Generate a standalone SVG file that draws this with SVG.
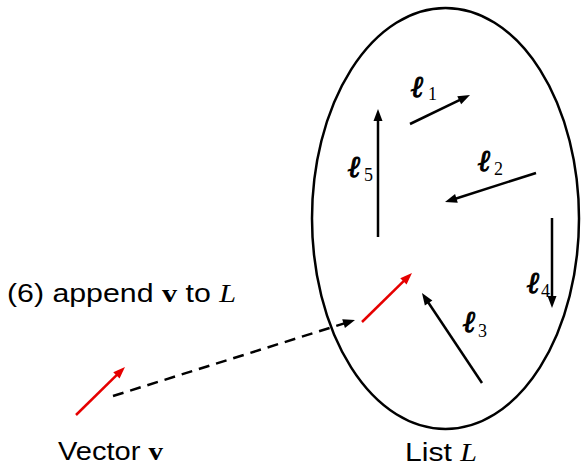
<svg xmlns="http://www.w3.org/2000/svg" width="581" height="467" viewBox="0 0 581 467">
<style>
.sans{font-family:"Liberation Sans",Arial,sans-serif;font-size:26px;fill:#000}
.bv{font-family:"Liberation Serif","Times New Roman",serif;font-weight:bold}
.itL{font-family:"Liberation Serif","Times New Roman",serif;font-style:italic}
.ell{font-family:"DejaVu Serif",serif;font-weight:bold;font-style:italic;font-size:30px;fill:#000;stroke:#000;stroke-width:1}
.sub{font-family:"Liberation Serif","Times New Roman",serif;font-size:18px;fill:#000}
.arr{stroke:#000;stroke-width:2.5;fill:none}
.red{stroke:#e60000;stroke-width:2.5;fill:none}
.dash{stroke:#000;stroke-width:2.5;fill:none;stroke-dasharray:11,7}
</style>
<defs>
<marker id="ah" markerUnits="userSpaceOnUse" markerWidth="12" markerHeight="10" refX="6" refY="5" orient="auto" overflow="visible">
<path d="M0,0.5 L12,5 L0,9.5 z" fill="#000"/>
</marker>
<marker id="ahr" markerUnits="userSpaceOnUse" markerWidth="12" markerHeight="10" refX="6" refY="5" orient="auto" overflow="visible">
<path d="M0,0.5 L12,5 L0,9.5 z" fill="#e60000"/>
</marker>
</defs>
<g id="list-L">
<ellipse cx="445.5" cy="218.5" rx="133.5" ry="210.5" fill="none" stroke="#000" stroke-width="2.5"/>
<text class="sans" x="405" y="461" textLength="72" lengthAdjust="spacingAndGlyphs">List <tspan class="itL">L</tspan></text>
</g>
<g id="l1">
<line class="arr" x1="410" y1="124" x2="464.6" y2="97.6" marker-end="url(#ah)"/>
<text class="ell" x="411" y="97">ℓ</text><text class="sub" x="428" y="100">1</text>
</g>
<g id="l2">
<line class="arr" x1="536" y1="173" x2="450.7" y2="200.2" marker-end="url(#ah)"/>
<text class="ell" x="478" y="171">ℓ</text><text class="sub" x="494" y="175">2</text>
</g>
<g id="l3">
<line class="arr" x1="482" y1="383" x2="425.3" y2="298" marker-end="url(#ah)"/>
<text class="ell" x="463" y="332">ℓ</text><text class="sub" x="478" y="337">3</text>
</g>
<g id="l4">
<line class="arr" x1="552" y1="218" x2="552" y2="302" marker-end="url(#ah)"/>
<text class="ell" x="527" y="293">ℓ</text><text class="sub" x="541" y="297">4</text>
</g>
<g id="l5">
<line class="arr" x1="378" y1="237" x2="378" y2="115" marker-end="url(#ah)"/>
<text class="ell" x="348" y="177">ℓ</text><text class="sub" x="364" y="181">5</text>
</g>
<g id="v-in-L">
<line class="red" x1="362" y1="322" x2="407.7" y2="277.2" marker-end="url(#ahr)"/>
</g>
<g id="vector-v">
<line class="red" x1="76" y1="415" x2="120.7" y2="371.2" marker-end="url(#ahr)"/>
<text class="sans" x="58" y="460" textLength="105" lengthAdjust="spacingAndGlyphs">Vector <tspan class="bv">v</tspan></text>
</g>
<g id="connectors">
<line class="dash" x1="113" y1="396" x2="349.3" y2="321.8" marker-end="url(#ah)"/>
<text class="sans" x="7" y="302" textLength="229" lengthAdjust="spacingAndGlyphs">(6) append <tspan class="bv">v</tspan> to <tspan class="itL">L</tspan></text>
</g>
</svg>
